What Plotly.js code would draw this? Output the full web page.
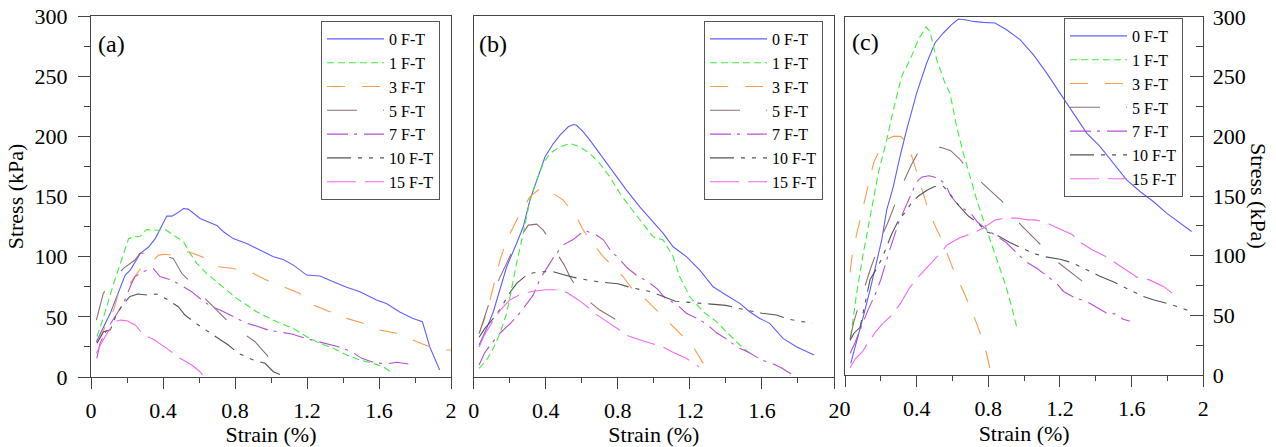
<!DOCTYPE html>
<html>
<head>
<meta charset="utf-8">
<script src="https://cdn.plot.ly/plotly-3.0.1.min.js"></script>
<style>html,body{margin:0;padding:0;background:#fff;}#chart{width:1276px;height:447px;}</style>
</head>
<body>
<div id="chart"></div>
<script>
// ---------- series names ----------
const seriesNames = ["0 F-T", "1 F-T", "3 F-T", "5 F-T", "7 F-T", "10 F-T", "15 F-T"];
const panelLabels = ["(a)", "(b)", "(c)"];
const xTickVals = [0, 0.4, 0.8, 1.2, 1.6, 2];
const yTickVals = [0, 50, 100, 150, 200, 250, 300];

// ---------- panel (a) ----------
const aX0 = [0.03,0.107,0.19,0.218,0.274,0.32,0.357,0.421,0.449,0.477,0.514,0.54,0.606,0.699,0.736,0.79,0.865,0.939,1.013,1.068,1.124,1.198,1.272,1.346,1.42,1.494,1.53,1.586,1.641,1.715,1.789,1.841,1.882,1.937];
const aY0 = [29.3,52.9,84.7,88.8,102.7,108,115,133.7,133.7,136,140,139.5,131.7,126,120.7,115,111,105.5,100,97.7,93,84.7,83.9,79.2,74.5,70.9,68,64,61,54,48.7,46,25,5.8];
const aX1 = [0.033,0.07,0.126,0.163,0.209,0.237,0.274,0.31,0.366,0.412,0.458,0.514,0.551,0.588,0.643,0.699,0.754,0.81,0.865,0.92,0.976,1.05,1.124,1.198,1.272,1.346,1.42,1.494,1.567,1.623,1.664];
const aY1 = [33.5,50,77.8,94.4,115,116.5,117,122.6,122,122.6,118,112.4,102.7,94.4,86,79,72,65.3,59.8,54.2,50,44.6,40.4,33.5,28,23.8,18.3,14.1,11.3,8.6,4.4];
const aX3 = [0.033,0.07,0.126,0.153,0.218,0.255,0.283,0.347,0.375,0.412,0.449,0.505,0.542,0.616,0.708,0.79,0.902,0.976,1.068,1.161,1.235,1.327,1.42,1.512,1.604,1.697,1.789,1.882,1.974,2.0];
const aY3 = [28,39,55.6,69.5,77.8,86,91.6,97,101.3,102,101.3,101.3,104,100,91.6,90.2,86,80.5,75,69.5,59.8,54.2,48.7,44.6,39,36.3,30.7,25,22.4,22.4];
const aX5 = [0.03,0.068,0.12,0.18,0.244,0.272,0.33,0.4,0.457,0.504,0.541,0.6,0.661,0.707,0.772,0.84,0.911,0.976,1.022];
const aY5 = [47.3,69.5,80,90.3,97.2,102.8,103,101,98.6,86.2,80.6,70,61.2,54.3,44.6,37,29.3,18.3,10];
const aX7 = [0.032,0.05,0.09,0.143,0.18,0.226,0.244,0.29,0.346,0.383,0.448,0.513,0.559,0.615,0.67,0.717,0.79,0.865,0.92,0.985,1.059,1.115,1.189,1.263,1.31,1.374,1.448,1.504,1.569,1.633,1.698,1.763];
const aY7 = [15.5,28,40,53,61,78,83.4,87.5,90.3,83.4,80.6,75,70.9,64,58.4,55.7,50.1,44.6,42.4,39,37.1,35.7,32.2,29.3,27.4,25.2,21,15.5,12.2,10.8,12.2,10.8];
const aX10 = [0.033,0.07,0.107,0.144,0.181,0.217,0.26,0.317,0.365,0.42,0.485,0.522,0.596,0.652,0.707,0.763,0.818,0.902,0.967,1.013,1.078];
const aY10 = [28,37.6,39,52.9,61,67,69,68,69,64.8,58.4,51.5,43.2,37.6,32.2,26.6,19.7,14.1,11.4,4.4,0.3];
const aX15 = [0.03,0.052,0.089,0.135,0.163,0.2,0.246,0.292,0.347,0.421,0.495,0.56,0.606,0.628];
const aY15 = [19.7,26.6,36.3,46,47.3,46.8,43.2,34.9,31.3,23.8,15.5,10,4.4,0];

// ---------- panel (b) ----------
const bX0 = [0.03,0.072,0.109,0.146,0.183,0.238,0.275,0.312,0.349,0.396,0.442,0.479,0.525,0.553,0.571,0.608,0.645,0.7,0.737,0.793,0.848,0.922,0.996,1.052,1.107,1.181,1.255,1.329,1.403,1.477,1.532,1.588,1.643,1.717,1.791,1.847,1.889];
const bY0 = [26.6,40.4,54.2,72.2,91.6,111,124.8,147,163.6,183,194,201,207.9,209.8,209.2,203.7,196.8,185.7,177.4,166.3,155.3,141.4,129,119.3,108.2,100,88.8,75,68,61.2,54.2,48.7,44.6,32.1,25.2,21,18.3];
const bX1 = [0.03,0.072,0.109,0.146,0.183,0.211,0.238,0.275,0.312,0.349,0.386,0.423,0.479,0.534,0.59,0.645,0.7,0.756,0.812,0.867,0.922,0.996,1.052,1.107,1.144,1.2,1.274,1.348,1.421,1.477,1.532];
const bY1 = [7.2,14.1,23.8,36.3,52.9,75,94.4,119.3,147,163.6,177.4,185.7,191.3,194,191.3,185.7,177.4,166.3,152.5,141.4,130.4,116.5,113.8,100,83.3,66.7,54.2,46,34.9,26.6,19.7];
const bX3 = [0.03,0.072,0.109,0.146,0.183,0.22,0.257,0.312,0.368,0.442,0.497,0.571,0.608,0.662,0.719,0.774,0.83,0.885,0.959,1.015,1.089,1.144,1.218,1.274];
const bY3 = [36.3,52.9,75,97.2,113.8,124.8,135.9,149.7,156.7,152.5,147,133.1,122,111,100,91.6,83.3,72.2,63.9,55.6,44.6,36.3,25.2,11.3];
const bX5 = [0.03,0.07,0.1,0.146,0.18,0.213,0.25,0.303,0.349,0.386,0.42,0.46,0.503,0.534,0.58,0.63,0.7,0.774,0.839];
const bY5 = [36,55,68,83,94,104,114,126.2,127,122,114.3,103,93,83.3,72.2,64,55.6,48.7,43.2];
const bX7 = [0.03,0.06,0.1,0.15,0.2,0.25,0.29,0.33,0.37,0.41,0.45,0.5,0.55,0.6,0.63,0.67,0.72,0.76,0.81,0.85,0.9,0.97,1.02,1.06,1.13,1.18,1.25,1.3,1.35,1.41,1.46,1.52,1.6,1.66,1.71,1.77];
const bY7 = [10,20,28,37,44,52,60,68,82,92,101,110,114,120,121,119,114,105,98,91,85,79,73,66,60,53,48,43,36.5,31,25,21,14,11,7.5,1.7];
const bX10 = [0.03,0.06,0.1,0.15,0.2,0.24,0.28,0.31,0.37,0.44,0.5,0.55,0.63,0.7,0.8,0.88,0.98,1.05,1.12,1.2,1.3,1.4,1.5,1.6,1.68,1.75,1.82,1.88];
const bY10 = [33,40,47,57,70,78,83,86,87.5,87.5,85,83,80.6,79,77.5,74,71,67,63,62,61,59.5,56,53,51.5,48,46,45];
const bX15 = [0.03,0.06,0.1,0.15,0.2,0.25,0.32,0.4,0.46,0.52,0.56,0.6,0.65,0.68,0.74,0.8,0.86,0.92,0.98,1.05,1.1,1.18,1.25];
const bY15 = [25,35,45,56,64,68,71,72.5,72.5,70,66,62,56,52,46,40,34,31,28,25,21,15.5,8.5];

// ---------- panel (c) ----------
const cX0 = [0.032,0.065,0.102,0.14,0.177,0.205,0.233,0.27,0.307,0.344,0.4,0.456,0.502,0.549,0.595,0.633,0.67,0.716,0.772,0.837,0.902,0.977,1.051,1.126,1.2,1.274,1.349,1.423,1.498,1.572,1.647,1.721,1.795,1.87,1.935];
const cY0 = [9.8,29.4,48.9,71.3,96.4,113.2,138.4,158,183.1,205.5,236.2,261.4,278.2,286.6,293.6,298.3,297.7,296.3,295.5,295,289.3,281,268.4,253,236.2,219.5,202.7,191.5,177.5,163.5,153.8,145.4,135.6,127.2,120.2];
const cX1 = [0.032,0.065,0.102,0.14,0.186,0.233,0.27,0.316,0.363,0.409,0.452,0.474,0.512,0.558,0.586,0.623,0.66,0.698,0.735,0.791,0.847,0.893,0.93,0.958];
const cY1 = [32.2,68.5,102,132.8,169.1,197.1,222.3,250.2,264.2,281,291.6,288,264.2,244.6,236.2,208.3,186,166.3,146.8,121.6,96.4,76.9,57.3,40.5];
const cX3 = [0.028,0.04,0.065,0.1,0.13,0.16,0.195,0.24,0.27,0.31,0.345,0.38,0.42,0.46,0.5,0.55,0.6,0.66,0.7,0.75,0.79,0.81];
const cY3 = [86,100,118,140,158,178,189,198,200,200,195,180,160,141,126,110,90,71,57,37,18,5];
const cX5 = [0.028,0.05,0.07,0.1,0.14,0.18,0.21,0.24,0.29,0.33,0.37,0.41,0.447,0.5,0.55,0.59,0.64,0.69,0.75,0.82,0.88,0.93,0.98,1.04,1.1,1.15,1.22,1.28,1.35,1.41];
const cY5 = [30,45,55,70,88,105,118,128,148,163,176,187,193,192,190,188,181,172,163,153,145,136,126,117,108,99,91,84,76,68.5];
const cX7 = [0.028,0.056,0.09,0.13,0.17,0.2,0.25,0.3,0.35,0.4,0.43,0.47,0.52,0.56,0.59,0.64,0.7,0.74,0.8,0.85,0.9,0.96,1.01,1.07,1.12,1.18,1.22,1.28,1.35,1.4,1.46,1.52,1.55,1.59];
const cY7 = [18,27,40,55,68,80,105,128,145,162,166,167,165,160,150,141,136,128,121,116,111,102,95,89.5,84,77,70,65,61.5,57,52,51,47,45];
const cX10 = [0.028,0.05,0.084,0.11,0.14,0.18,0.21,0.26,0.3,0.34,0.37,0.41,0.46,0.5,0.55,0.59,0.64,0.69,0.74,0.79,0.85,0.92,0.99,1.05,1.12,1.2,1.27,1.35,1.42,1.5,1.59,1.66,1.72,1.8,1.88,1.935];
const cY10 = [29,35,40,60,80,90,99,118,130,137,144,150,155,158,158,151,141,133,127.5,120,117,111,106.5,102,99,97,94,88,83,78,71,66,63,60,56,53];
const cX15 = [0.028,0.06,0.1,0.12,0.17,0.21,0.26,0.31,0.36,0.42,0.47,0.52,0.57,0.64,0.7,0.77,0.84,0.9,0.96,1.02,1.06,1.12,1.19,1.27,1.31,1.38,1.46,1.52,1.58,1.63,1.7,1.78,1.86];
const cY15 = [6,14,20,25,36,43,50,60,73,84,92,100,109,115,118,123,130,131.5,131.5,130,130,128,123,117.5,111.5,105,99,93,87,82,79.7,74,64.6];

// ---------- styles ----------
const FONT = "Liberation Serif, Times New Roman, serif";
const colors = ["#5f5fff", "#3fee3f", "#ff9a4c", "#8f7070", "#b84ed8", "#555555", "#f46af4"];
const dashes = ["solid", "7px,4px", "18px,17px", "30px,26px", "21px,6px,3px,7px", "24px,7px,4px,7px,4px,7px", "29px,9px"];

const panels = [
  {xs:[aX0,aX1,aX3,aX5,aX7,aX10,aX15], ys:[aY0,aY1,aY3,aY5,aY7,aY10,aY15], xa:'x', ya:'y', lg:'legend'},
  {xs:[bX0,bX1,bX3,bX5,bX7,bX10,bX15], ys:[bY0,bY1,bY3,bY5,bY7,bY10,bY15], xa:'x2', ya:'y2', lg:'legend2'},
  {xs:[cX0,cX1,cX3,cX5,cX7,cX10,cX15], ys:[cY0,cY1,cY3,cY5,cY7,cY10,cY15], xa:'x3', ya:'y3', lg:'legend3'}
];

const traces = [];
panels.forEach(p => {
  for (let i = 0; i < seriesNames.length; i++) {
    traces.push({
      type: 'scatter', mode: 'lines',
      x: p.xs[i], y: p.ys[i],
      xaxis: p.xa, yaxis: p.ya, legend: p.lg,
      name: seriesNames[i],
      line: {color: colors[i], width: 1.1, dash: dashes[i]},
      hoverinfo: 'skip'
    });
  }
});

const W = 1276, H = 447;
const axLine = '#444';
function xAxis(d0, d1, anchor) {
  return {
    domain: [d0 / W, d1 / W], anchor: anchor, range: [0, 2],
    tickvals: xTickVals, ticks: 'outside', ticklen: 11, tickwidth: 1, tickcolor: axLine,
    minor: {dtick: 0.2, tick0: 0, ticks: 'outside', ticklen: 5, tickcolor: axLine},
    showline: true, mirror: true, linecolor: axLine, linewidth: 1,
    showgrid: false, zeroline: false, fixedrange: true, automargin: true,
    tickfont: {family: FONT, size: 22, color: '#000'},
    ticklabelstandoff: 3,
    title: {text: 'Strain (%)', font: {family: FONT, size: 22, color: '#000'}, standoff: 2}
  };
}
function yAxisBase(t, b, anchor) {
  return {
    domain: [(H - b) / H, (H - t) / H], anchor: anchor, range: [0, 300],
    showline: true, mirror: true, linecolor: axLine, linewidth: 1,
    showgrid: false, zeroline: false, fixedrange: true,
    tickfont: {family: FONT, size: 22, color: '#000'}
  };
}

const yA = Object.assign(yAxisBase(16, 377, 'x'), {
  tickvals: yTickVals, ticks: 'outside', ticklen: 12, tickcolor: axLine,
  minor: {dtick: 25, tick0: 0, ticks: 'outside', ticklen: 6, tickcolor: axLine},
  ticklabelstandoff: 6, automargin: true,
  title: {text: 'Stress (kPa)', font: {family: FONT, size: 22, color: '#000'}, standoff: 4}
});
const yB = Object.assign(yAxisBase(16, 377, 'x2'), {ticks: '', showticklabels: false});
const yC = Object.assign(yAxisBase(17, 375, 'x3'), {
  side: 'right',
  tickvals: yTickVals, ticks: 'inside', ticklen: 13, tickcolor: axLine,
  minor: {dtick: 25, tick0: 0, ticks: 'inside', ticklen: 7, tickcolor: axLine},
  ticklabelstandoff: 4
});

function legendAt(xpx, ypx) {
  return {
    x: xpx / W, y: 1 - ypx / H, xanchor: 'left', yanchor: 'top',
    bgcolor: 'rgba(255,255,255,0)', bordercolor: '#555', borderwidth: 1,
    font: {family: FONT, size: 16, color: '#000'},
    itemwidth: 57, tracegroupgap: 0, traceorder: 'normal'
  };
}

const annFont = {family: FONT, size: 24, color: '#000'};
const layout = {
  width: W, height: H,
  margin: {l: 0, r: 0, t: 0, b: 0, autoexpand: false},
  paper_bgcolor: '#fff', plot_bgcolor: 'rgba(255,255,255,0)',
  font: {family: FONT, color: '#000'},
  showlegend: true,
  xaxis: xAxis(91, 451, 'y'),
  xaxis2: xAxis(473.7, 834, 'y2'),
  xaxis3: xAxis(845, 1203.3, 'y3'),
  yaxis: yA, yaxis2: yB, yaxis3: yC,
  legend: legendAt(321, 21),
  legend2: legendAt(704, 21),
  legend3: legendAt(1064, 18),
  annotations: [
    {text: panelLabels[0], xref: 'paper', yref: 'paper', x: 96 / W, y: 1 - 44 / H, xanchor: 'left', yanchor: 'middle', showarrow: false, font: annFont},
    {text: panelLabels[1], xref: 'paper', yref: 'paper', x: 477 / W, y: 1 - 44 / H, xanchor: 'left', yanchor: 'middle', showarrow: false, font: annFont},
    {text: panelLabels[2], xref: 'paper', yref: 'paper', x: 850 / W, y: 1 - 42 / H, xanchor: 'left', yanchor: 'middle', showarrow: false, font: annFont},
    {text: 'Stress (kPa)', xref: 'paper', yref: 'paper', x: 1258 / W, y: 1 - 196 / H, xanchor: 'center', yanchor: 'middle', textangle: 90, showarrow: false, font: {family: FONT, size: 22, color: '#000'}}
  ]
};

Plotly.newPlot('chart', traces, layout, {staticPlot: true, displayModeBar: false});
</script>
</body>
</html>
